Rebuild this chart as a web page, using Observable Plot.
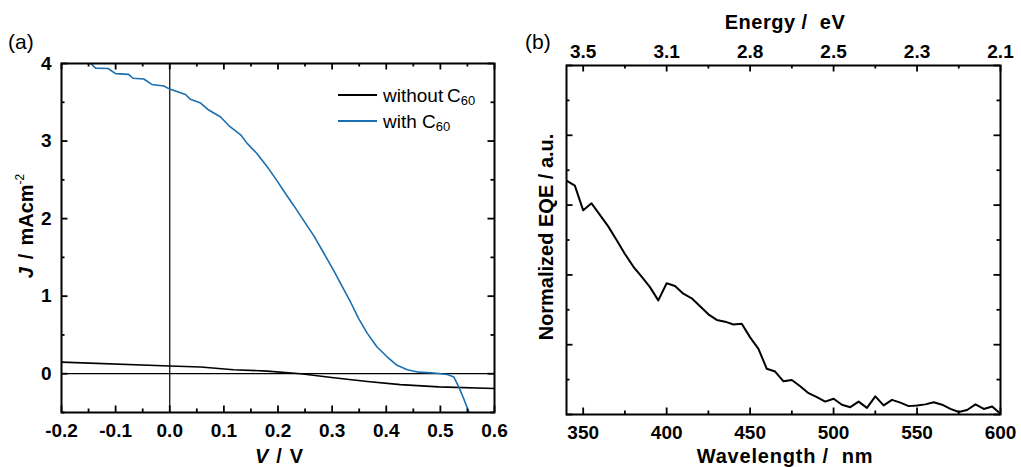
<!DOCTYPE html>
<html><head><meta charset="utf-8">
<script src="https://cdn.jsdelivr.net/npm/d3@7"></script>
<script src="https://cdn.jsdelivr.net/npm/@observablehq/plot@0.6"></script>
<style>
body{margin:0;background:#fff;font-family:"Liberation Sans",Arial,sans-serif;}
#wrap{position:relative;width:1021px;height:467px;overflow:hidden;background:#fff;}
#wrap svg{position:absolute;top:0;overflow:visible;}
.leg{position:absolute;font-size:19px;line-height:19px;color:#000;white-space:nowrap;}
.leg sub{font-size:13px;vertical-align:-3px;line-height:0;}
.sw{position:absolute;height:0;}
.plabel{position:absolute;font-size:21px;line-height:21px;}
</style></head><body><div id="wrap"></div>
<script>
// ---- Panel (a): J–V curves ----
const vWith = [-0.146,-0.137,-0.114,-0.100,-0.076,-0.068,-0.048,-0.033,-0.011,0.000,0.029,0.038,0.057,0.072,0.094,0.109,0.131,0.143,0.161,0.180,0.198,0.214,0.229,0.245,0.266,0.285,0.303,0.319,0.334,0.349,0.365,0.383,0.402,0.420,0.439,0.460,0.488,0.513,0.525,0.534,0.543,0.553];
const jWith = [4.00,3.94,3.935,3.87,3.86,3.81,3.80,3.73,3.71,3.67,3.60,3.54,3.49,3.40,3.31,3.20,3.08,2.97,2.84,2.67,2.49,2.32,2.17,2.00,1.78,1.55,1.33,1.12,0.925,0.71,0.52,0.344,0.215,0.108,0.052,0.02,0.009,-0.01,-0.043,-0.17,-0.32,-0.50];
const vWithout = [-0.2,0.0,0.057,0.118,0.180,0.242,0.303,0.365,0.426,0.497,0.6];
const jWithout = [0.15,0.10,0.086,0.052,0.034,0.0,-0.052,-0.10,-0.14,-0.17,-0.19];
const jvXTicks = [-0.2,-0.1,0.0,0.1,0.2,0.3,0.4,0.5,0.6];
const jvXMinor = [-0.15,-0.05,0.05,0.15,0.25,0.35,0.45,0.55];
const jvYTicks = [0,1,2,3,4];
const jvYMinor = [-0.5,0.5,1.5,2.5,3.5];
const seriesNames = ["without", "with"];
const seriesColors = ["#000000", "#1a6fb0"];

// ---- Panel (b): normalized EQE ----
const wavelength = [340,345,350,355,360,365,370,375,380,385,390,395,400,405,410,415,420,425,430,435,440,445,450,455,460,465,470,475,480,485,490,495,500,505,510,515,520,525,530,535,540,545,550,555,560,565,570,575,580,585,590,595,600];
const eqe = [0.670,0.656,0.585,0.605,0.572,0.539,0.500,0.460,0.424,0.395,0.365,0.327,0.376,0.368,0.346,0.333,0.310,0.287,0.271,0.266,0.258,0.260,0.221,0.188,0.131,0.123,0.095,0.099,0.081,0.061,0.050,0.037,0.045,0.028,0.021,0.037,0.019,0.052,0.026,0.042,0.034,0.024,0.026,0.029,0.035,0.028,0.016,0.007,0.013,0.029,0.016,0.023,0.002];
const wlTicks = [350,400,450,500,550,600];
const wlMinor = [375,425,475,525,575];
const energyLabels = ["3.5","3.1","2.8","2.5","2.3","2.1"];
const eqeMajor = [0,0.2,0.4,0.6,0.8,1];
const eqeMinor = [0.1,0.3,0.5,0.7,0.9];

const FONT = "Liberation Sans, Arial, sans-serif";
const tickStyle = {fontSize: 19, fontWeight: "bold", letterSpacing: 0.8};
const fmt1 = d => d.toFixed(1);

// inward ticks on all four sides, as frame-spanning rules shrunk by insets
function frameTicks(W, H, xMajor, xMinor, yMajor, yMinor) {
  const M = 6.5, m = 3.5, sw = 1.8, st = "#000";
  const out = [];
  for (const [t, L] of [[xMajor, M], [xMinor, m]]) {
    out.push(Plot.ruleX(t, {x: d => d, insetTop: H - L, stroke: st, strokeWidth: sw}));
    out.push(Plot.ruleX(t, {x: d => d, insetBottom: H - L, stroke: st, strokeWidth: sw}));
  }
  for (const [t, L] of [[yMajor, M], [yMinor, m]]) {
    out.push(Plot.ruleY(t, {y: d => d, insetRight: W - L, stroke: st, strokeWidth: sw}));
    out.push(Plot.ruleY(t, {y: d => d, insetLeft: W - L, stroke: st, strokeWidth: sw}));
  }
  return out;
}

const lineData = [
  ...vWithout.map((v, i) => ({V: v, J: jWithout[i], s: seriesNames[0]})),
  ...vWith.map((v, i) => ({V: v, J: jWith[i], s: seriesNames[1]}))
];

const A = {width: 510, height: 467, marginLeft: 61, marginRight: 16, marginTop: 63, marginBottom: 55};
const plotA = Plot.plot({
  ...A,
  style: {fontFamily: FONT, background: "transparent", color: "#000"},
  x: {domain: [-0.2, 0.6], axis: null},
  y: {domain: [-0.5, 4], axis: null},
  color: {domain: seriesNames, range: seriesColors},
  marks: [
    Plot.ruleY([0], {stroke: "#000", strokeWidth: 1.2}),
    Plot.ruleX([0], {stroke: "#000", strokeWidth: 1.2}),
    Plot.line(lineData, {x: "V", y: "J", z: "s", stroke: "s", strokeWidth: 1.6, clip: true}),
    ...frameTicks(A.width - A.marginLeft - A.marginRight, A.height - A.marginTop - A.marginBottom, jvXTicks, jvXMinor, jvYTicks, jvYMinor),
    Plot.axisX({anchor: "bottom", ticks: jvXTicks, tickSize: 0, tickPadding: 11, label: null, tickFormat: fmt1, ...tickStyle}),
    Plot.axisY({anchor: "left", ticks: jvYTicks, tickSize: 0, tickPadding: 10, label: null, tickFormat: d => String(d), ...tickStyle}),
    Plot.frame({stroke: "#000", strokeWidth: 2})
  ]
});

const B = {width: 511, height: 467, marginLeft: 56, marginRight: 21, marginTop: 65, marginBottom: 53};
const plotB = Plot.plot({
  ...B,
  style: {fontFamily: FONT, background: "transparent", color: "#000"},
  x: {domain: [340, 600], axis: null},
  y: {domain: [0, 1], axis: null},
  marks: [
    Plot.line(wavelength.map((w, i) => ({w, e: eqe[i]})), {x: "w", y: "e", stroke: "#000", strokeWidth: 2, clip: true}),
    ...frameTicks(B.width - B.marginLeft - B.marginRight, B.height - B.marginTop - B.marginBottom, wlTicks, wlMinor, eqeMajor, eqeMinor),
    Plot.axisX({anchor: "bottom", ticks: wlTicks, tickSize: 0, tickPadding: 11, label: null, tickFormat: d => String(d), ...tickStyle}),
    Plot.axisX({anchor: "top", ticks: wlTicks, tickSize: 0, tickPadding: 8, label: null, tickFormat: d => energyLabels[wlTicks.indexOf(d)], ...tickStyle}),
    Plot.frame({stroke: "#000", strokeWidth: 2})
  ]
});

const wrap = document.getElementById("wrap");
plotA.style.left = "0px";
plotB.style.left = "510px";
wrap.appendChild(plotA);
wrap.appendChild(plotB);

// axis titles
const sa = d3.select(plotA);
const ya = sa.append("text").attr("transform", "translate(33,226) rotate(-90)")
  .attr("text-anchor", "middle").attr("font-size", 20).attr("font-weight", "bold").attr("fill", "#000");
ya.append("tspan").attr("font-style", "italic").text("J");
ya.append("tspan").attr("dx", 8).text("/");
ya.append("tspan").attr("dx", 8).text("mAcm");
ya.append("tspan").attr("font-size", 12).attr("font-weight", "normal").attr("dy", -9).text("-2");
const xa = sa.append("text").attr("x", 279).attr("y", 463)
  .attr("text-anchor", "middle").attr("font-size", 20).attr("font-weight", "bold").attr("fill", "#000");
xa.append("tspan").attr("font-style", "italic").text("V");
xa.append("tspan").attr("dx", 8).text("/");
xa.append("tspan").attr("dx", 8).text("V");

const sb = d3.select(plotB);
sb.append("text").attr("x", 785 - 510).attr("y", 463).attr("text-anchor", "middle")
  .attr("font-size", 20).attr("font-weight", "bold").attr("letter-spacing", 0.8).attr("fill", "#000")
  .text("Wavelength /  nm");
sb.append("text").attr("x", 785 - 510).attr("y", 29).attr("text-anchor", "middle")
  .attr("font-size", 20).attr("font-weight", "bold").attr("letter-spacing", 0.5).attr("fill", "#000")
  .text("Energy /  eV");
sb.append("text").attr("transform", `translate(${553 - 510},237) rotate(-90)`).attr("text-anchor", "middle")
  .attr("font-size", 20).attr("font-weight", "bold").attr("fill", "#000")
  .text("Normalized EQE / a.u.");

// legend and panel labels (HTML)
const legendLabels = ["without\u2009C<sub>60</sub>", "with C<sub>60</sub>"];
[95, 121].forEach((y, i) => {
  const sw = document.createElement("div");
  sw.className = "sw";
  sw.style.cssText = `left:338px;top:${y - 1}px;width:39px;border-top:2px solid ${seriesColors[i]};`;
  wrap.appendChild(sw);
  const t = document.createElement("div");
  t.className = "leg";
  t.style.left = "383px";
  t.style.top = (y - 9) + "px";
  t.innerHTML = legendLabels[i];
  wrap.appendChild(t);
});
[["(a)", 8], ["(b)", 525]].forEach(([s, x]) => {
  const d = document.createElement("div");
  d.className = "plabel";
  d.style.left = x + "px";
  d.style.top = "31px";
  d.textContent = s;
  wrap.appendChild(d);
});
</script>
</body></html>
